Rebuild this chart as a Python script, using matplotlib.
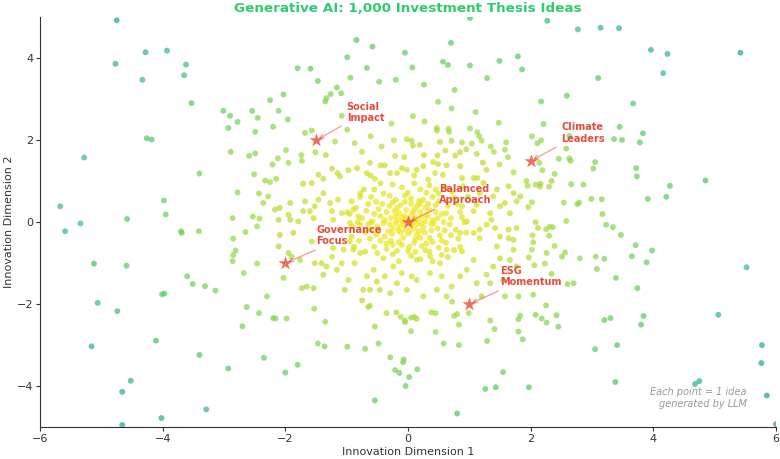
import matplotlib.pyplot as plt
import numpy as np

# idea positions, grouped by the area of the plot they sit in
ideas_top_left = [
    (-4.75, 4.93), (-4.77, 3.87), (-4.28, 4.15), (-3.93, 4.19), (-4.33, 3.48), (-3.62, 3.85),
    (-3.65, 3.59), (-3.53, 2.91), (-4.26, 2.05), (-4.18, 2.02), (-5.28, 1.58), (-3.01, 2.72),
    (-2.90, 2.60), (-2.93, 2.30), (-2.78, 2.45), (-2.54, 2.72), (-2.45, 2.55), (-2.49, 2.21),
    (-2.89, 1.72), (-2.59, 1.62), (-2.49, 1.68),
]
ideas_top_mid = [
    (1.01, 4.99), (-0.84, 4.45), (-0.58, 4.29), (0.70, 4.38), (-0.05, 4.14), (-0.99, 4.03),
    (-1.80, 3.76), (-1.59, 3.75), (-0.67, 3.77), (0.07, 3.78), (0.57, 3.92), (0.65, 3.84),
    (1.01, 3.83), (1.49, 3.94), (1.79, 4.05), (-1.47, 3.45), (-0.94, 3.53), (-0.47, 3.43),
    (-0.20, 3.48), (0.26, 3.36), (1.29, 3.52), (-1.16, 3.29), (-1.26, 3.13), (-1.09, 3.15),
    (-1.33, 3.03), (-1.35, 2.95), (0.76, 3.23), (-2.03, 3.12), (-2.25, 2.98), (-2.11, 2.72),
    (0.49, 2.94), (0.71, 2.78), (-1.08, 2.60), (-1.96, 2.51), (0.08, 2.59), (1.10, 2.69),
    (-2.20, 2.33), (-0.27, 2.41), (0.27, 2.46), (1.48, 2.43), (-0.99, 2.26), (0.47, 2.30),
    (0.47, 2.24), (0.66, 2.28), (0.67, 2.21), (1.01, 2.29), (1.13, 2.20), (1.16, 2.10),
    (-1.68, 2.18), (-1.57, 2.24), (-0.61, 2.10), (-0.02, 2.03), (0.06, 1.99), (0.08, 1.87),
    (-0.23, 2.00), (-0.43, 1.85), (-1.19, 1.97), (-0.87, 1.93), (0.19, 1.89), (0.52, 1.96),
    (0.71, 1.99), (0.88, 1.95), (1.04, 1.92), (1.20, 1.99), (1.35, 1.85), (1.60, 1.95),
    (-1.99, 1.76), (-1.74, 1.64), (-1.51, 1.71), (-1.34, 1.64), (-0.75, 1.72), (-0.21, 1.62),
    (-0.06, 1.59), (0.26, 1.64), (0.48, 1.63), (0.61, 1.75), (0.77, 1.63), (0.85, 1.71),
    (0.95, 1.78), (1.12, 1.67), (1.40, 1.72), (1.58, 1.77), (1.63, 1.59), (-2.12, 1.56),
]
ideas_top_right = [
    (2.27, 4.92), (2.77, 4.71), (3.14, 4.75), (3.44, 4.74), (3.96, 4.21), (4.23, 4.11),
    (5.42, 4.14), (4.16, 3.64), (1.86, 3.73), (3.10, 3.52), (2.17, 2.95), (2.59, 3.09),
    (3.67, 2.90), (2.21, 2.40), (3.45, 2.33), (3.83, 2.17), (2.02, 2.10), (2.17, 2.00),
    (2.11, 1.93), (2.63, 2.11), (3.36, 2.03), (3.49, 2.01), (3.78, 1.95), (2.58, 1.80),
    (2.46, 1.55), (2.63, 1.56),
]
ideas_mid_left = [
    (-5.67, 0.39), (-5.59, -0.22), (-5.34, -0.03), (-4.58, 0.08), (-3.98, 0.53), (-3.95, 0.19),
    (-3.70, -0.22), (-3.69, -0.26), (-3.41, -0.22), (-3.40, 1.19), (-5.12, -1.01), (-4.59, -1.06),
    (-3.60, -1.32), (-3.51, -1.51), (-3.31, -1.56), (-3.14, -1.67), (-4.01, -1.76), (-3.97, -1.74),
    (-5.06, -1.97), (-2.51, 1.17), (-2.78, 0.73), (-2.43, 0.70), (-2.86, 0.10), (-2.53, 0.14),
    (-2.42, 0.09), (-2.46, -0.10), (-2.65, -0.24), (-2.85, -0.40), (-2.81, -0.69), (-2.85, -0.80),
    (-2.86, -0.95), (-2.46, -1.01), (-2.68, -1.24), (-2.63, -2.07),
]
ideas_bottom_left = [
    (-4.74, -2.17), (-5.16, -3.03), (-4.11, -2.89), (-3.40, -3.24), (-2.93, -3.57), (-2.70, -2.54),
    (-2.43, -2.22), (-4.52, -3.87), (-4.66, -4.14), (-4.66, -4.95), (-4.02, -4.78), (-3.29, -4.57),
]
ideas_bottom_mid = [
    (-2.20, -2.34), (-2.16, -2.35), (-1.98, -2.35), (-1.53, -2.11), (-1.35, -2.43), (-0.65, -2.07),
    (-0.62, -2.04), (-0.75, -1.91), (-0.54, -2.55), (-0.35, -2.22), (-0.19, -2.20), (-0.12, -2.31),
    (-0.05, -2.40), (-0.05, -2.44), (0.05, -2.33), (0.10, -2.31), (0.14, -2.36), (0.05, -2.66),
    (0.38, -2.20), (0.45, -2.22), (0.45, -2.68), (0.75, -2.29), (0.80, -2.24), (0.72, -1.94),
    (0.99, -2.22), (0.83, -2.50), (0.58, -2.96), (0.83, -3.00), (1.34, -2.40), (1.41, -2.61),
    (1.29, -2.90), (1.80, -2.37), (1.80, -2.67), (1.55, -3.66), (1.26, -4.07), (1.43, -4.03),
    (0.80, -4.67), (-0.54, -4.35), (-0.04, -4.00), (0.02, -3.78), (0.15, -3.59), (-0.21, -3.61),
    (-0.14, -3.68), (-0.29, -3.30), (-0.08, -3.42), (-0.07, -3.35), (-0.48, -2.96), (-0.70, -3.09),
    (-0.99, -3.04), (-1.36, -3.03), (-1.47, -2.96), (-1.80, -3.48), (-2.00, -3.67), (-2.35, -3.31),
]
ideas_bottom_right = [
    (1.83, -2.28), (1.87, -2.86), (2.08, -2.26), (2.18, -2.35), (2.25, -2.03), (2.26, -2.45),
    (2.42, -2.27), (2.45, -2.55), (3.20, -2.39), (3.30, -2.34), (3.84, -2.29), (3.80, -2.50),
    (5.06, -2.26), (3.05, -3.10), (3.41, -3.00), (1.97, -4.03), (3.38, -3.90), (4.68, -3.95),
    (4.75, -3.88), (5.77, -3.00), (5.76, -3.44), (5.85, -4.23), (6.00, -4.93),
]
ideas_mid_right = [
    (2.14, 1.45), (2.19, 1.27), (2.65, 1.50), (3.05, 1.47), (3.02, 1.31), (3.72, 1.32),
    (3.73, 1.12), (4.27, 0.89), (4.85, 1.02), (4.21, 0.62), (3.91, 0.57), (2.39, 1.18),
    (2.34, 1.01), (1.93, 1.01), (1.95, 0.89), (2.08, 0.92), (2.16, 0.94), (2.15, 0.87),
    (2.30, 0.87), (2.66, 0.93), (2.86, 0.92), (1.83, 0.63), (2.02, 0.49), (1.96, 0.37),
    (2.54, 0.48), (2.76, 0.44), (2.79, 0.48), (2.99, 0.57), (3.16, 0.56), (3.17, 0.20),
    (3.23, -0.06), (3.34, -0.12), (3.47, -0.31), (2.58, 0.03), (2.08, 0.00), (2.12, -0.14),
    (2.25, -0.17), (2.31, -0.11), (2.36, -0.12), (2.30, -0.33), (2.03, -0.32), (2.04, -0.49),
    (2.02, -0.67), (1.97, -0.86), (2.06, -1.05), (2.23, -1.01), (2.26, -0.75), (2.39, -0.58),
    (2.51, -0.84), (2.56, -0.74), (2.80, -0.88), (3.06, -0.84), (3.20, -0.89), (3.08, -1.14),
    (3.65, -0.83), (3.71, -0.56), (3.98, -0.69), (3.89, -0.98), (5.52, -1.10), (2.34, -1.26),
    (3.39, -1.36), (2.60, -1.51), (2.70, -1.49), (3.74, -1.61), (2.04, -1.77),
]
ideas_centre_band = [
    (-2.21, 1.41), (-1.95, 1.45), (-1.73, 1.50), (-0.62, 1.45), (-0.45, 1.39), (-0.38, 1.39),
    (0.41, 1.47), (0.49, 1.42), (0.63, 1.39), (1.22, 1.46), (1.49, 1.41), (-2.33, 1.02),
    (-2.25, 0.98), (-2.15, 1.06), (-1.71, 0.94), (-1.57, 0.96), (-1.38, 1.06), (-1.46, 1.16),
    (-1.24, 1.31), (-1.15, 1.20), (-1.11, 1.12), (-0.97, 1.27), (-0.83, 1.32), (-0.67, 1.20),
    (-0.61, 1.14), (-0.54, 1.06), (-0.29, 1.20), (-0.18, 1.20), (-0.10, 1.32), (-0.02, 1.28),
    (0.14, 1.28), (0.10, 1.14), (0.25, 1.37), (0.33, 1.04), (0.44, 1.20), (0.57, 1.16),
    (0.85, 1.37), (0.88, 1.08), (1.07, 1.08), (1.13, 1.08), (1.28, 1.28), (1.72, 1.22),
    (-2.36, 0.47), (-2.28, 0.63), (-2.17, 0.31), (-2.11, 0.06), (-2.09, 0.35), (-1.95, 0.18),
    (-1.92, 0.47), (-1.92, 0.06), (-1.87, -0.26), (-1.79, 0.02), (-1.71, 0.27), (-1.68, 0.51),
    (-1.60, 0.27), (-1.54, 0.10), (-1.52, 0.39), (-1.46, 0.55), (-1.38, 0.71), (-1.27, 0.47),
    (-1.24, 0.27), (-1.22, 0.06), (-1.14, 0.55), (-1.08, 0.22), (-0.99, 0.24), (-0.95, -0.02),
    (-0.92, 0.51), (-0.89, 0.31), (-0.81, 0.14), (-0.78, 0.71), (-0.78, -0.06),
    (0.90, 0.88), (0.98, 0.63), (1.07, 0.27), (1.12, 0.43), (1.17, 0.71), (1.23, 0.96),
    (1.39, 0.63), (1.45, 0.80), (1.50, 0.39), (1.58, 0.47), (1.64, 0.88), (1.66, 0.22),
    (1.72, 0.71), (1.77, 0.51), (1.34, 0.22), (1.36, 0.06), (0.88, 0.39), (0.96, 0.02),
    (0.85, -0.26), (1.07, -0.26), (1.17, -0.18), (1.28, -0.06), (1.42, -0.14), (1.50, -0.35),
    (1.64, -0.18), (1.77, -0.14), (1.72, -0.43),
    (-2.30, -1.81), (-2.11, -0.59), (-2.09, -0.31), (-2.03, -1.36), (-1.95, -0.75), (-1.90, -0.84),
    (-1.76, -0.92), (-1.73, -1.61), (-1.65, -1.57), (-1.57, -0.47), (-1.54, -1.61), (-1.52, -1.00),
    (-1.41, -1.00), (-1.38, -1.28), (-1.33, -1.08), (-1.24, -0.84), (-1.22, -0.63), (-1.16, -1.16),
    (-1.08, -1.00), (-1.05, -0.67), (-1.03, -1.65), (-0.97, -1.41), (-0.95, -0.47), (-0.89, -0.67),
    (-0.87, -1.00), (-0.78, -0.75), (-0.73, -1.65), (-0.67, -1.32), (-0.62, -1.65),
    (0.14, -1.41), (0.25, -1.81), (0.36, -1.24), (0.47, -1.65), (0.55, -1.32), (0.63, -1.81),
    (0.71, -1.57), (0.85, -1.32), (0.88, -0.71), (0.96, -1.16), (1.07, -0.92), (1.12, -1.49),
    (1.17, -0.39), (1.20, -1.81), (1.28, -1.28), (1.34, -1.49), (1.39, -1.08), (1.45, -0.59),
    (1.50, -0.88), (1.55, -1.41), (1.64, -0.39), (1.66, -0.92), (1.72, -0.67), (1.77, -1.08),
    (1.58, -1.81), (1.80, -1.81), (0.52, -1.00), (0.63, -0.67), (0.36, -0.83), (0.14, -0.92),
    (-0.56, -1.16), (-0.51, -1.45), (-0.46, -1.65), (-0.38, -1.32), (-0.29, -1.73), (-0.24, -1.08),
    (-0.18, -1.49), (-0.10, -1.24), (-0.02, -1.65), (0.06, -1.32),
]
ideas_core = [
    (0.02, 0.05), (-0.10, 0.12), (0.15, -0.05), (-0.05, -0.18), (0.22, 0.14), (-0.20, -0.02),
    (0.08, 0.25), (-0.15, 0.22), (0.18, -0.22), (-0.25, -0.15), (0.05, -0.08), (-0.03, 0.30),
    (0.28, 0.02), (-0.28, 0.10), (0.12, 0.10), (-0.08, -0.05), (0.25, -0.12), (-0.12, -0.25),
    (0.00, -0.28), (0.10, -0.15), (-0.18, 0.05), (0.20, 0.25), (-0.22, 0.28), (0.06, 0.18),
    (-0.06, 0.15), (0.16, 0.04), (-0.14, -0.12), (0.27, -0.25), (-0.26, -0.28), (0.03, -0.22),
    (0.11, 0.32), (-0.30, -0.05), (0.30, 0.18), (-0.09, 0.02), (0.14, -0.30), (-0.20, 0.15),
    (0.22, -0.03), (-0.02, 0.10), (0.07, -0.02), (-0.16, -0.20),
    (0.40, 0.05), (0.35, 0.30), (0.20, 0.45), (-0.05, 0.50), (-0.30, 0.40), (-0.45, 0.15),
    (-0.50, -0.10), (-0.38, -0.35), (-0.15, -0.48), (0.10, -0.50), (0.35, -0.38), (0.48, -0.15),
    (0.55, 0.20), (0.45, 0.42), (0.05, 0.58), (-0.20, 0.55), (-0.48, 0.32), (-0.58, 0.02),
    (-0.52, -0.30), (-0.25, -0.55), (0.02, -0.60), (0.30, -0.52), (0.52, -0.32), (0.58, 0.00),
    (0.42, -0.02), (0.32, 0.15), (0.38, -0.20), (0.15, 0.40), (-0.12, 0.42), (-0.35, 0.25),
    (-0.40, -0.02), (-0.32, -0.22), (-0.08, -0.38), (0.20, -0.38), (0.45, 0.25), (-0.42, 0.45),
    (0.25, 0.55), (-0.55, 0.20), (-0.45, -0.45), (0.40, -0.48), (0.50, 0.50), (-0.28, -0.45),
    (0.60, -0.20), (-0.60, -0.18), (0.12, -0.42), (-0.18, 0.35), (0.33, 0.45), (-0.38, 0.05),
    (0.48, 0.10), (-0.10, -0.55), (0.22, -0.58), (0.55, -0.45), (-0.52, 0.50), (0.05, 0.45),
    (-0.25, 0.48), (0.38, -0.05), (-0.48, -0.20), (0.28, 0.35), (-0.35, -0.52), (0.18, 0.52),
    (0.70, 0.10), (0.65, 0.40), (0.50, 0.70), (0.20, 0.80), (-0.10, 0.85), (-0.40, 0.70),
    (-0.65, 0.45), (-0.75, 0.10), (-0.70, -0.25), (-0.55, -0.60), (-0.25, -0.78), (0.05, -0.82),
    (0.35, -0.72), (0.62, -0.50), (0.78, -0.18), (0.85, 0.25), (0.75, 0.60), (0.35, 0.90),
    (-0.25, 0.92), (-0.55, 0.80), (-0.85, 0.35), (-0.90, -0.10), (-0.80, -0.45), (-0.40, -0.88),
    (0.20, -0.90), (0.55, -0.80), (0.82, -0.40), (0.92, 0.00), (0.68, -0.05), (0.62, 0.22),
    (0.40, 0.62), (0.00, 0.72), (-0.30, 0.65), (-0.60, 0.62), (-0.68, 0.28), (-0.65, -0.05),
    (-0.62, -0.40), (-0.35, -0.65), (0.00, -0.70), (0.28, -0.68), (0.50, -0.62), (0.70, -0.32),
    (0.80, 0.45), (0.60, 0.85), (0.10, 0.95), (-0.45, 0.95), (-0.78, 0.62), (-0.95, 0.20),
    (-0.92, -0.35), (-0.70, -0.72), (-0.15, -0.95), (0.40, -0.95), (0.75, -0.68), (0.95, -0.25),
    (0.72, 0.75), (-0.05, 0.65), (-0.82, 0.00), (0.12, -0.72), (0.88, 0.12), (-0.50, -0.75),
    (0.45, 0.80), (-0.72, 0.80), (0.65, -0.85), (-0.88, -0.60), (0.30, 0.72), (-0.18, -0.70),
    (0.85, -0.60), (-0.60, 0.00),
]

themes = ['Social\nImpact', 'Climate\nLeaders', 'Balanced\nApproach', 'Governance\nFocus', 'ESG\nMomentum']
theme_x = [-1.5, 2.0, 0.0, -2.0, 1.0]
theme_y = [2.0, 1.5, 0.0, -1.0, -2.0]

pts = np.array(ideas_top_left + ideas_top_mid + ideas_top_right + ideas_mid_left
               + ideas_bottom_left + ideas_bottom_mid + ideas_bottom_right
               + ideas_mid_right + ideas_centre_band + ideas_core)
dist = np.hypot(pts[:, 0], pts[:, 1])
order = np.argsort(-dist)
pts, dist = pts[order], dist[order]

fig = plt.figure(figsize=(7.8, 4.59), dpi=100)
ax = fig.add_axes([0.0513, 0.0697, 0.9436, 0.8922])

ax.scatter(pts[:, 0], pts[:, 1], c=dist, cmap='viridis_r', vmin=0, vmax=17,
           s=18, alpha=0.7, linewidths=0)

red = '#e74c3c'
ax.scatter(theme_x, theme_y, marker='*', s=110, color=red, alpha=0.8, linewidths=0, zorder=5)
for name, x, y in zip(themes, theme_x, theme_y):
    ax.annotate(name, xy=(x, y), xytext=(x + 0.5, y + 0.68), fontsize=7, fontweight='bold',
                color=red, va='center', ha='left',
                arrowprops=dict(arrowstyle='->', color=red, alpha=0.5, lw=1))

ax.text(0.96, 0.045, 'Each point = 1 idea\ngenerated by LLM', transform=ax.transAxes,
        ha='right', va='bottom', fontsize=7, style='italic', color='gray', alpha=0.8)

ax.set_xlim(-6, 6)
ax.set_ylim(-5, 5)
ax.set_xticks([-6, -4, -2, 0, 2, 4, 6])
ax.set_yticks([-4, -2, 0, 2, 4])
ax.set_xlabel('Innovation Dimension 1', fontsize=8, color='#333333', labelpad=2)
ax.set_ylabel('Innovation Dimension 2', fontsize=8, color='#333333', labelpad=2)
ax.set_title('Generative AI: 1,000 Investment Thesis Ideas', fontsize=9.7, fontweight='bold',
             color='#2ecc71', pad=4)
ax.tick_params(labelsize=8, colors='#333333', length=3, pad=2)
for side in ['top', 'right']:
    ax.spines[side].set_visible(False)
for side in ['left', 'bottom']:
    ax.spines[side].set_color('#333333')

fig.savefig('out.png', dpi=100)
